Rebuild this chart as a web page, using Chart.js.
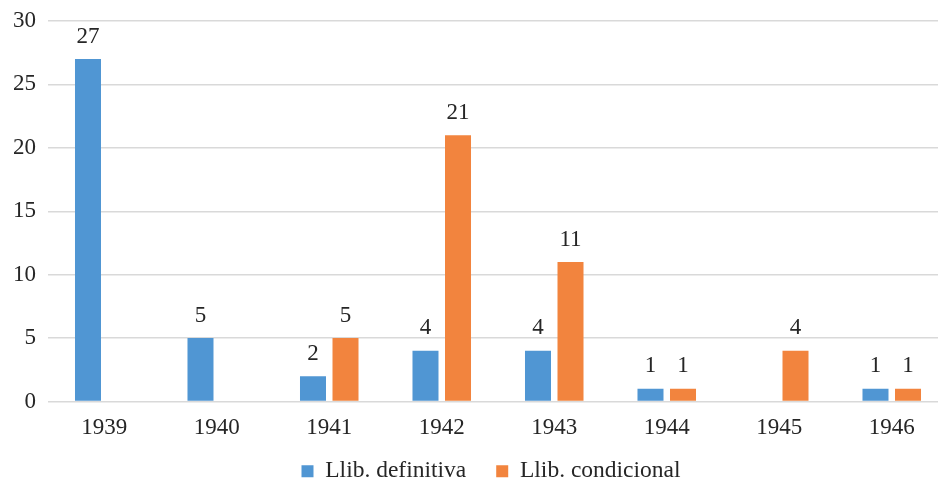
<!DOCTYPE html>
<html>
<head>
<meta charset="utf-8">
<script src="https://cdn.jsdelivr.net/npm/chart.js@4/dist/chart.umd.min.js"></script>
<style>
  html, body { margin: 0; padding: 0; background: #fff; overflow: hidden; }
  #wrap { width: 950px; height: 483px; }
</style>
</head>
<body>
<div id="wrap"><canvas id="chart"></canvas></div>
<script>
// Data
const years = ['1939', '1940', '1941', '1942', '1943', '1944', '1945', '1946'];
const definitiva = [27, 5, 2, 4, 4, 1, null, 1];
const condicional = [null, null, 5, 21, 11, 1, 4, 1];
const yTicks = [0, 5, 10, 15, 20, 25, 30];

const FONT = "'Liberation Serif', 'DejaVu Serif', serif";

// small value-label plugin (no datalabels plugin offline)
const valueLabels = {
    id: 'valueLabels',
    afterDatasetsDraw(chart) {
        const ctx = chart.ctx;
        ctx.save();
        ctx.font = "23px " + FONT;
        ctx.fillStyle = '#262626';
        ctx.textAlign = 'center';
        ctx.textBaseline = 'bottom';
        chart.data.datasets.forEach((ds, i) => {
            chart.getDatasetMeta(i).data.forEach((bar, j) => {
                const v = ds.data[j];
                if (v == null) return;
                ctx.fillText(String(v), bar.x, bar.y - 11);
            });
        });
        ctx.restore();
    },
};

// x labels may spill below the short x axis box; legend sits a bit right of centre
const layoutTweaks = {
    id: 'layoutTweaks',
    afterLayout(chart) {
        chart.scales.x.bottom = chart.height;
        chart.legend.left += 34;
    },
};

Chart.defaults.font.family = FONT;
Chart.defaults.color = '#262626';

new Chart(document.getElementById('chart'), {
    type: 'bar',
    data: {
        labels: years,
        datasets: [
            { label: 'Llib. definitiva', data: definitiva, backgroundColor: '#5096d3' },
            { label: 'Llib. condicional', data: condicional, backgroundColor: '#f2843e' },
        ],
    },
    options: {
        responsive: true,
        maintainAspectRatio: false,
        animation: false,
        layout: { padding: { top: 21, right: 2, left: 0, bottom: -10 } },
        datasets: {
            bar: { categoryPercentage: 0.578, barPercentage: 0.8 },
        },
        scales: {
            x: {
                grid: { display: false },
                border: { display: false },
                ticks: { font: { size: 23 }, padding: 5, maxRotation: 0 },
                afterFit(scale) { scale.height = 28; },
            },
            y: {
                min: 0,
                max: 30,
                afterBuildTicks(scale) { scale.ticks = yTicks.map(v => ({ value: v })); },
                grid: { color: '#d9d9d9', lineWidth: 1.5, drawTicks: false },
                border: { display: false },
                ticks: { font: { size: 23, lineHeight: 0.5 }, padding: 12 },
                afterFit(scale) { scale.width = 48; },
            },
        },
        plugins: {
            legend: {
                position: 'bottom',
                labels: {
                    font: { size: 23.5, lineHeight: 1.0 },
                    boxWidth: 12,
                    boxHeight: 12,
                    padding: 30,
                },
            },
            tooltip: { enabled: false },
        },
    },
    plugins: [valueLabels, layoutTweaks],
});
</script>
</body>
</html>
